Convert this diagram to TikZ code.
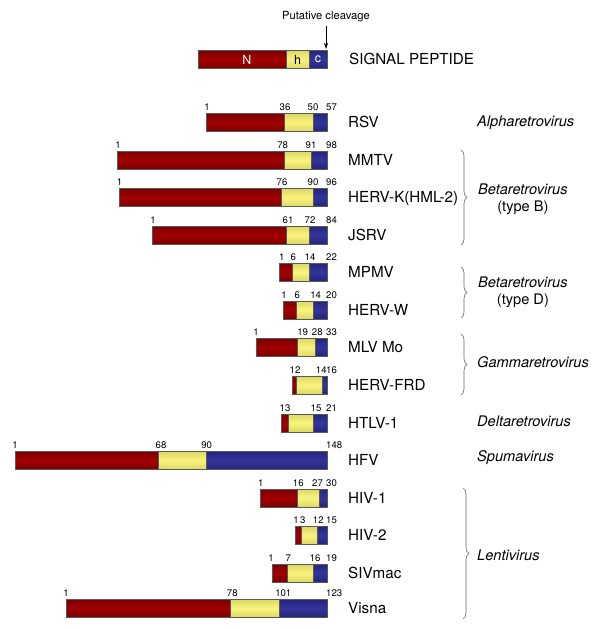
\documentclass[tikz,border=0pt]{standalone}
\usepackage{fontspec}
\setmainfont{TeX Gyre Heros}
\usepackage{tikz}
\usetikzlibrary{arrows.meta, decorations.pathreplacing, positioning}
\definecolor{segR}{HTML}{A20000}
\definecolor{segRd}{HTML}{7C0000}
\definecolor{segY}{HTML}{F8F47E}
\definecolor{segYd}{HTML}{DCD864}
\definecolor{segB}{HTML}{34349A}
\definecolor{segBd}{HTML}{24247E}
\tikzset{
  seg/.style={draw=black!65, line width=0.5pt},
  segred/.style={seg, top color=segRd, bottom color=segRd, middle color=segR},
  segyel/.style={seg, top color=segYd, bottom color=segYd, middle color=segY},
  segblu/.style={seg, top color=segBd, bottom color=segBd, middle color=segB},
  num/.style={inner sep=0pt, anchor=base, font=\fontsize{9.6}{11}\selectfont},
  vname/.style={anchor=west, inner sep=0pt, text height=10.9pt, text depth=0pt, font=\fontsize{15.2}{17}\selectfont},
  taxon/.style={anchor=west, inner sep=0pt, align=center, font=\fontsize{14.6}{17}\selectfont\itshape},
  inbar/.style={inner sep=0pt, font=\fontsize{12.5}{14}\selectfont},
  brc/.style={draw=black!60, line width=0.6pt, decorate, decoration={brace, amplitude=6pt}}
}

\begin{document}
\begin{tikzpicture}[x=1pt, y=-1pt]
    \useasboundingbox (0,0) rectangle (600,629);

    % Signal peptide
    \draw[segred] (198.3,50.5) rectangle (286,68.5);
    \draw[segyel] (286,50.5) rectangle (309,68.5);
    \draw[segblu] (309,50.5) rectangle (327,68.5);
    \node[inbar, white] (spN) at (247,59.5) {N};
    \node[inbar] (sph) at (297.5,59.5) {h};
    \node[inbar, white] (spc) at (318,59.5) {c};
    \node[vname] (sp) at (349,59.5) {SIGNAL PEPTIDE};
    \node[font=\fontsize{11.2}{13}\selectfont] (cleave) at (326,17) {Putative cleavage};
    \coordinate (cut) at (326,49);
    \draw[-{Stealth[length=6pt,width=4pt]}, line width=0.6pt] (cleave.south) -- (cut);

    % Retroviral signal peptides
    \foreach \yc/\xl/\xa/\xb/\vn/\na/\pa/\nb/\pb/\nc/\pc/\nd [count=\i] in {
        122.5/206.7/284.3/313.3/RSV/1/207/36/285/50/313/57,
        160/117.3/284/311.3/MMTV/1/118/78/282.7/91/311/98,
        197.5/119.3/281.7/313.3/HERV-K(HML-2)/1/119.5/76/282/90/313/96,
        235/152.7/286/309.3/JSRV/1/153/61/288/72/310/84,
        272/279.3/292.3/309/MPMV/1/281.7/6/293.3/14/310/22,
        310/283.3/296.7/313.3/HERV-W/1/284/6/297.3/14/315.7/20,
        347.5/256/297/315.3/{MLV Mo}/1/256/19/302.7/28/317.3/33,
        385/292.3/296.7/322/HERV-FRD/{}/292/12/295/14/321.3/16,
        423/281.3/288.7/313.3/HTLV-1/{}/281/13/285/15/316/21,
        460.5/15/158.3/206.7/HFV/1/15/68/161/90/206.7/148,
        498/260.7/297/319.3/HIV-1/1/260.7/16/298.3/27/317.5/30,
        535.5/295/301.7/317.7/HIV-2/1/296/3/302.7/12/318.3/15,
        573/272.7/287.7/313.3/SIVmac/1/271/7/288.3/16/315/19,
        608.3/66/230.7/279.3/Visna/1/66/78/232.3/101/283.3/123}
    {
        \draw[segred] (\xl,\yc-9) rectangle (\xa,\yc+9);
        \draw[segyel] (\xa,\yc-9) rectangle (\xb,\yc+9);
        \draw[segblu] (\xb,\yc-9) rectangle (327,\yc+9);
        \node[num] (n\i-a) at (\pa,\yc-12) {\na};
        \node[num] (n\i-b) at (\pb,\yc-12) {\nb};
        \node[num] (n\i-c) at (\pc,\yc-12) {\nc};
        \node[num, anchor=base west] (n\i-d) at (326,\yc-12) {\nd};
        \node[vname] (v\i) at (348,\yc) {\vn};
    }

    % Genera
    \node[taxon] (alpha) at (477,122.5) {Alpharetrovirus};
    \node[taxon] (betaB) at (478,199) {Betaretrovirus\\\upshape(type B)};
    \node[taxon] (betaD) at (478,292) {Betaretrovirus\\\upshape(type D)};
    \node[taxon] (gamma) at (477,362) {Gammaretrovirus};
    \node[taxon] (delta) at (477,421) {Deltaretrovirus};
    \node[taxon] (spuma) at (477,457.5) {Spumavirus};
    \node[taxon] (lenti) at (477,555) {Lentivirus};

    % Braces
    \coordinate (bB1) at (461,150);  \coordinate (bB2) at (461,245);
    \coordinate (bD1) at (461,267);  \coordinate (bD2) at (461,318);
    \coordinate (bG1) at (461,334);  \coordinate (bG2) at (461,395);
    \coordinate (bL1) at (463,488);  \coordinate (bL2) at (463,619);
    \draw[brc] (bB1) -- (bB2);
    \draw[brc] (bD1) -- (bD2);
    \draw[brc] (bG1) -- (bG2);
    \draw[brc] (bL1) -- (bL2);
\end{tikzpicture}
\end{document}
